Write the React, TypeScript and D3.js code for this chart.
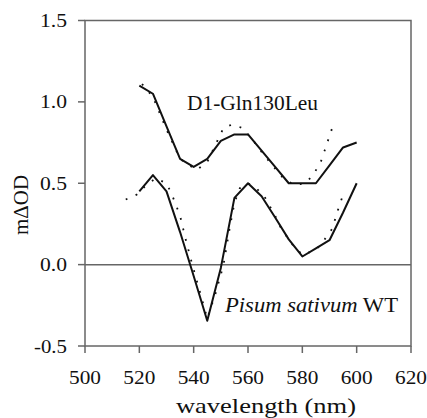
import React from "react";
import * as d3 from "d3";

const xTicks = [500, 520, 540, 560, 580, 600, 620];
const yTicks = [-0.5, 0.0, 0.5, 1.0, 1.5];
const yTickLabels = ["-0.5", "0.0", "0.5", "1.0", "1.5"];

const upperSolidX = [520, 525, 530, 535, 540, 545, 550, 555, 560, 565, 570, 575, 580, 585, 590, 595, 600];
const upperSolidY = [1.10, 1.05, 0.85, 0.65, 0.60, 0.65, 0.76, 0.80, 0.80, 0.70, 0.60, 0.50, 0.50, 0.50, 0.61, 0.72, 0.75];

const upperDotX = [521, 525, 530, 535, 541, 545, 549, 551, 554, 558, 562, 566, 570, 573, 577, 581, 584, 587, 589, 591];
const upperDotY = [1.11, 1.03, 0.83, 0.65, 0.58, 0.63, 0.77, 0.84, 0.86, 0.84, 0.76, 0.67, 0.59, 0.53, 0.49, 0.50, 0.55, 0.64, 0.74, 0.84];

const lowerSolidX = [520, 525, 530, 535, 540, 545, 550, 555, 560, 565, 570, 575, 580, 585, 590, 595, 600];
const lowerSolidY = [0.45, 0.55, 0.45, 0.20, -0.07, -0.345, -0.02, 0.41, 0.50, 0.42, 0.29, 0.155, 0.05, 0.10, 0.15, 0.32, 0.50];

const lowerDotX = [515, 519, 522, 526, 530, 532, 535, 537, 539, 542, 545, 548, 551, 553, 555, 557, 560, 563, 566, 568, 570, 572, 576, 580, 585, 588, 591, 593, 595];
const lowerDotY = [0.40, 0.43, 0.48, 0.53, 0.50, 0.43, 0.30, 0.16, 0.03, -0.15, -0.33, -0.18, 0.0, 0.20, 0.38, 0.47, 0.50, 0.47, 0.42, 0.36, 0.30, 0.23, 0.13, 0.06, 0.09, 0.15, 0.22, 0.33, 0.43];

const W = 427;
const H = 418;
const left = 85;
const right = 411;
const top = 20.5;
const bottom = 346;

const x = d3.scaleLinear().domain([500, 620]).range([left, right]);
const y = d3.scaleLinear().domain([-0.5, 1.5]).range([bottom, top]);

const line = d3
  .line<[number, number]>()
  .x((d) => x(d[0]))
  .y((d) => y(d[1]));

const zip = (xs: number[], ys: number[]) => xs.map((v, i) => [v, ys[i]] as [number, number]);

const font = '"Liberation Serif", "DejaVu Serif", serif';
const axisColor = "#666";
const txt = { fontFamily: font };
const fit = "spacingAndGlyphs";

export default function App() {
  return (
    <svg
      width={W}
      height={H}
      style={{ position: "absolute", left: 0, top: 0, background: "#fff", fontFamily: font }}
    >
      <rect x={0} y={0} width={W} height={H} fill="#fff" />
      <line x1={left} x2={right} y1={y(0)} y2={y(0)} stroke={axisColor} strokeWidth={1.5} />
      <rect x={left} y={top} width={right - left} height={bottom - top} fill="none" stroke={axisColor} strokeWidth={1.5} />
      {yTicks.map((t, i) => (
        <g key={"y" + t}>
          <line x1={left - 7} x2={left} y1={y(t)} y2={y(t)} stroke={axisColor} strokeWidth={1.5} />
          <text
            x={67}
            y={y(t) + 6.5}
            textAnchor="end"
            fontSize={19.5}
            fill="#111"
            style={txt}
            textLength={yTickLabels[i].length === 4 ? 33 : 27}
            lengthAdjust={fit}
          >
            {yTickLabels[i]}
          </text>
        </g>
      ))}
      {xTicks.map((t) => (
        <g key={"x" + t}>
          <line x1={x(t)} x2={x(t)} y1={bottom} y2={bottom + 7} stroke={axisColor} strokeWidth={1.5} />
          <text
            x={x(t)}
            y={384}
            textAnchor="middle"
            fontSize={19.5}
            fill="#111"
            style={txt}
            textLength={32}
            lengthAdjust={fit}
          >
            {t}
          </text>
        </g>
      ))}
      <path d={line(zip(upperDotX, upperDotY)) || ""} fill="none" stroke="#111" strokeWidth={1.8} strokeDasharray="1.8 9" />
      <path d={line(zip(lowerDotX, lowerDotY)) || ""} fill="none" stroke="#111" strokeWidth={1.8} strokeDasharray="1.8 9" />
      <path d={line(zip(upperSolidX, upperSolidY)) || ""} fill="none" stroke="#111" strokeWidth={2} strokeLinejoin="round" />
      <path d={line(zip(lowerSolidX, lowerSolidY)) || ""} fill="none" stroke="#111" strokeWidth={2} strokeLinejoin="round" />
      <text x={187} y={110} fontSize={21} fill="#111" style={txt} textLength={131} lengthAdjust={fit}>
        D1-Gln130Leu
      </text>
      <text x={225} y={312} fontSize={21} fill="#111" style={txt} textLength={173} lengthAdjust={fit}>
        <tspan fontStyle="italic">Pisum sativum</tspan> WT
      </text>
      <text x={176} y={413} fontSize={21.5} fill="#111" style={txt} textLength={180} lengthAdjust={fit}>
        wavelength (nm)
      </text>
      <text
        transform={`translate(28,235) rotate(-90)`}
        fontSize={21}
        fill="#111"
        style={txt}
        textLength={60}
        lengthAdjust={fit}
      >
        mΔOD
      </text>
    </svg>
  );
}
